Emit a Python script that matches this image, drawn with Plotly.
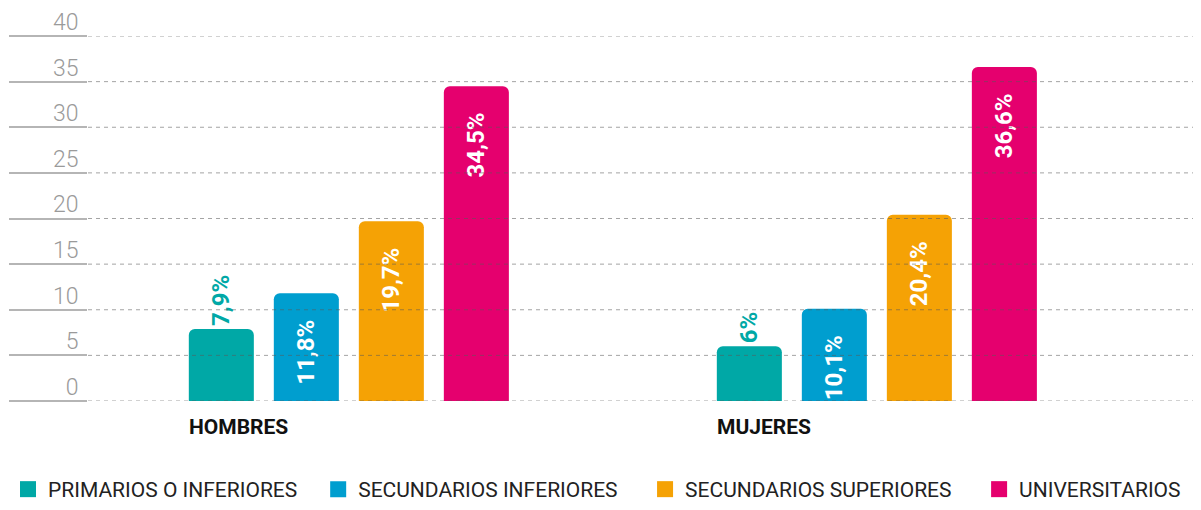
import plotly.graph_objects as go

categories = ["HOMBRES", "MUJERES"]
series_names = ["PRIMARIOS O INFERIORES", "SECUNDARIOS INFERIORES",
                "SECUNDARIOS SUPERIORES", "UNIVERSITARIOS"]
primarios = [7.9, 6.0]
sec_inf = [11.8, 10.1]
sec_sup = [19.7, 20.4]
universitarios = [34.5, 36.6]
tick_vals = [0, 5, 10, 15, 20, 25, 30, 35, 40]

series_values = [primarios, sec_inf, sec_sup, universitarios]
colors = ["#00a8a6", "#009ecf", "#f5a205", "#e5006e"]
legend_x = [0.0, 0.26, 0.534, 0.814]
FONT = "Roboto"

# the page body adds an 8px offset; figure is sized to compensate
W, H = 1193, 502


def fmt(v):
    return f"{v:g}".replace(".", ",") + "%"


fig = go.Figure()
legend_names = ["legend", "legend2", "legend3", "legend4"]
for i, (name, vals, col) in enumerate(zip(series_names, series_values, colors)):
    outside = i == 0
    fig.add_trace(go.Bar(
        name=name, x=categories, y=vals,
        marker=dict(color=col, cornerradius=6, line=dict(width=0)),
        text=[fmt(v) for v in vals],
        texttemplate="%{text}" if outside else "%{text}\u2002\u2004\u200b",
        textposition="outside" if outside else "inside",
        insidetextanchor="end",
        textangle=-90,
        constraintext="none",
        cliponaxis=False,
        textfont=dict(family=FONT, size=24, weight="bold",
                      color=col if outside else "white"),
        hoverinfo="skip",
        showlegend=False,
    ))
    # legend entry with a larger square swatch
    fig.add_trace(go.Scatter(
        name=name, x=[None], y=[None], mode="markers",
        marker=dict(symbol="square", size=17, color=col),
        legend=legend_names[i], showlegend=True, hoverinfo="skip",
    ))

shapes = []
for t in tick_vals:
    shapes.append(dict(type="line", xref="paper", yref="y", x0=0, x1=1, y0=t, y1=t,
                       layer="above", line=dict(color="rgba(90,90,90,0.55)", width=1,
                                                dash="4px,4px")))

annotations = []
for c in categories:
    annotations.append(dict(x=c, y=0, xref="x", yref="y", text=f"<b>{c}</b>",
                            showarrow=False, xanchor="left", yanchor="top",
                            xshift=-162, yshift=-12,
                            font=dict(family=FONT, size=21, color="#111111")))

legend_common = dict(orientation="h", xref="container", yref="container",
                     y=0.0, xanchor="left", yanchor="bottom", itemsizing="trace",
                     font=dict(family=FONT, size=21, color="#222222"))
layout_legends = {}
for ln, lx in zip(legend_names, legend_x):
    layout_legends[ln] = dict(legend_common, x=lx)

fig.update_layout(
    width=W, height=H,
    margin=dict(l=80, r=1, t=28, b=109, autoexpand=False),
    paper_bgcolor="white", plot_bgcolor="white",
    barmode="group", bargap=0.356, bargroupgap=0.235,
    showlegend=True,
    xaxis=dict(range=[-0.494, 1.612], showticklabels=False, showgrid=False,
               zeroline=False, showline=False, ticks="", automargin=False),
    yaxis=dict(range=[0, 40], tickvals=tick_vals, showgrid=False, zeroline=False,
               showline=False, ticks="outside", ticklen=78, tickwidth=2,
               tickcolor="#b5b5b5", ticklabelposition="outside top",
               ticklabelstandoff=4, ticklabelshift=3, ticklabeloverflow="allow",
               automargin=False,
               tickfont=dict(family=FONT, size=23, weight=300, color="#9a9a9a")),
    shapes=shapes, annotations=annotations,
    font=dict(family=FONT),
    **layout_legends,
)

fig.write_html("out.html")
